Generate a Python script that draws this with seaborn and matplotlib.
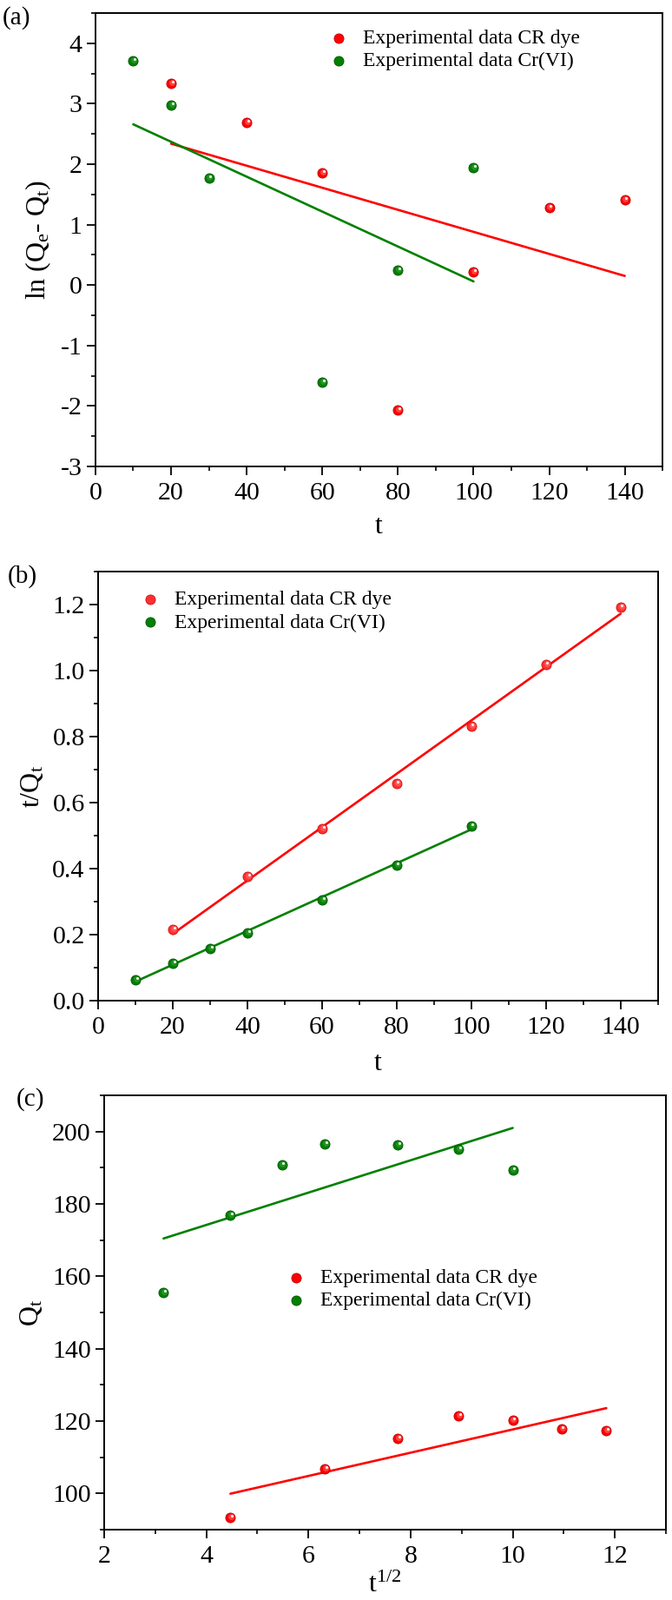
import numpy as np
import pandas as pd
import matplotlib
matplotlib.use('Agg')
import matplotlib.pyplot as plt
import seaborn as sns
from matplotlib.ticker import MultipleLocator, FormatStrFormatter
from matplotlib.transforms import offset_copy

sns.set_theme(style='ticks')
plt.rcParams['font.family'] = ['Liberation Serif', 'DejaVu Serif']
plt.rcParams['mathtext.fontset'] = 'custom'
plt.rcParams['mathtext.rm'] = 'Liberation Serif'
plt.rcParams['mathtext.it'] = 'Liberation Serif:italic'
plt.rcParams['axes.unicode_minus'] = False
plt.rcParams['axes.edgecolor'] = 'black'
plt.rcParams['xtick.color'] = 'black'
plt.rcParams['ytick.color'] = 'black'
plt.rcParams['text.color'] = 'black'
plt.rcParams['axes.labelcolor'] = 'black'

# ---- data ----
# (a) pseudo-first-order
t_a_cr = [20, 40, 60, 80, 100, 120, 140]
ln_cr = [3.33, 2.69, 1.85, -2.07, 0.22, 1.28, 1.41]
t_a_cv = [10, 20, 30, 60, 80, 100]
ln_cv = [3.71, 2.97, 1.77, -1.61, 0.24, 1.94]

# (b) pseudo-second-order
t_b_cr = [20, 40, 60, 80, 100, 120, 140]
tq_cr = [0.215, 0.376, 0.521, 0.659, 0.832, 1.018, 1.193]
t_b_cv = [10, 20, 30, 40, 60, 80, 100]
tq_cv = [0.064, 0.114, 0.158, 0.205, 0.306, 0.411, 0.530]

# (c) intraparticle diffusion (x = t^1/2)
t_c_cr = [20, 40, 60, 80, 100, 120, 140]
qt_cr = [93.4, 106.9, 115.2, 121.4, 120.3, 117.9, 117.4]
t_c_cv = [10, 20, 30, 40, 60, 80, 100]
qt_cv = [155.4, 176.9, 190.7, 196.5, 196.3, 195.1, 189.4]

lab_cr = 'Experimental data CR dye'
lab_cv = 'Experimental data Cr(VI)'
RED, GREEN = '#ff0000', '#008000'
RED_HI, GREEN_HI = '#ff7070', '#40a040'
RED_DK, GREEN_DK = '#c00000', '#005500'

TICK_FS = 21.5
LAB_FS = 23
LEG_FS = 17

fig = plt.figure(figsize=(7.74, 18.42), dpi=100)
ax_a = fig.add_axes([0.142, 0.7085, 0.844, 0.2834])
ax_b = fig.add_axes([0.146, 0.3746, 0.833, 0.2680])
ax_c = fig.add_axes([0.155, 0.0440, 0.836, 0.2714])


def spheres(ax, x, y, c, c_hi, c_dk, label):
    sns.scatterplot(x=x, y=y, ax=ax, color=c, s=64, edgecolor=c_dk,
                    linewidth=0.6, label=label, zorder=3)
    tr1 = offset_copy(ax.transData, fig=fig, x=0.8, y=1.0, units='dots')
    ax.scatter(x, y, s=24, color=c_hi, alpha=0.6, linewidths=0, transform=tr1, zorder=4)
    tr2 = offset_copy(ax.transData, fig=fig, x=1.6, y=2.0, units='dots')
    ax.scatter(x, y, s=5, color='white', alpha=0.9, linewidths=0, transform=tr2, zorder=5)


def fit(ax, x, y, c):
    sns.regplot(x=np.asarray(x, float), y=np.asarray(y, float), ax=ax, scatter=False,
                ci=None, truncate=True, color=c, line_kws={'lw': 1.9, 'zorder': 2})


def style(ax, xmaj, xmin, ymaj, ymin):
    ax.xaxis.set_major_locator(MultipleLocator(xmaj))
    ax.xaxis.set_minor_locator(MultipleLocator(xmin))
    ax.yaxis.set_major_locator(MultipleLocator(ymaj))
    ax.yaxis.set_minor_locator(MultipleLocator(ymin))
    ax.tick_params(which='major', direction='out', length=7, width=1.3,
                   labelsize=TICK_FS, top=False, right=False)
    ax.tick_params(axis='x', which='major', pad=6)
    ax.tick_params(axis='y', which='major', pad=4)
    ax.tick_params(which='minor', direction='out', length=3.5, width=1.2,
                   top=False, right=False)
    for s in ax.spines.values():
        s.set_linewidth(1.4)
        s.set_color('black')


def legend(ax, x, y):
    ax.legend(loc='center left', bbox_to_anchor=(x, y), frameon=False,
              fontsize=LEG_FS, handlelength=1, handletextpad=0.7,
              borderpad=0, borderaxespad=0, labelspacing=0.2, markerscale=1)


# (a)
fit(ax_a, t_a_cr, ln_cr, RED)
fit(ax_a, t_a_cv, ln_cv, GREEN)
spheres(ax_a, t_a_cr, ln_cr, RED, RED_HI, RED_DK, lab_cr)
spheres(ax_a, t_a_cv, ln_cv, GREEN, GREEN_HI, GREEN_DK, lab_cv)
ax_a.set_xlim(0, 150)
ax_a.set_ylim(-3, 4.5)
style(ax_a, 20, 10, 1, 0.5)
ax_a.set_xlabel('t', fontsize=LAB_FS)
ax_a.set_ylabel(r'ln (Q$_\mathrm{e}$- Q$_\mathrm{t}$)', fontsize=LAB_FS)
ax_a.yaxis.set_label_coords(-0.075, 0.5)
ax_a.xaxis.set_label_coords(0.5, -0.105)
legend(ax_a, 0.41, 0.919)

# (b)
fit(ax_b, t_b_cr, tq_cr, RED)
fit(ax_b, t_b_cv, tq_cv, GREEN)
spheres(ax_b, t_b_cr, tq_cr, '#ff3030', RED_HI, '#d01010', lab_cr)
spheres(ax_b, t_b_cv, tq_cv, GREEN, GREEN_HI, GREEN_DK, lab_cv)
ax_b.set_xlim(0, 150)
ax_b.set_ylim(0, 1.3)
style(ax_b, 20, 10, 0.2, 0.1)
ax_b.yaxis.set_major_formatter(FormatStrFormatter('%.1f'))
ax_b.set_xlabel('t', fontsize=LAB_FS)
ax_b.set_ylabel(r't/Q$_\mathrm{t}$', fontsize=LAB_FS)
ax_b.yaxis.set_label_coords(-0.095, 0.5)
ax_b.xaxis.set_label_coords(0.5, -0.117)
legend(ax_b, 0.075, 0.908)

# (c)
x_cr = np.sqrt(t_c_cr)
x_cv = np.sqrt(t_c_cv)
fit(ax_c, x_cv, qt_cv, GREEN)
fit(ax_c, x_cr, qt_cr, RED)
spheres(ax_c, x_cr, qt_cr, RED, RED_HI, RED_DK, lab_cr)
spheres(ax_c, x_cv, qt_cv, GREEN, GREEN_HI, GREEN_DK, lab_cv)
ax_c.set_xlim(2, 13)
ax_c.set_ylim(90, 210)
style(ax_c, 2, 1, 20, 10)
ax_c.set_xlabel(r't$^{1/2}$', fontsize=LAB_FS)
ax_c.set_ylabel(r'Q$_\mathrm{t}$', fontsize=LAB_FS)
ax_c.yaxis.set_label_coords(-0.107, 0.5)
ax_c.xaxis.set_label_coords(0.5, -0.1)
legend(ax_c, 0.323, 0.553)

fig.text(0.003, 0.9886, '(a)', fontsize=21, va='center', ha='left')
fig.text(0.0116, 0.640, '(b)', fontsize=21, va='center', ha='left')
fig.text(0.0245, 0.3127, '(c)', fontsize=21, va='center', ha='left')

fig.savefig('out.png', dpi=100)
